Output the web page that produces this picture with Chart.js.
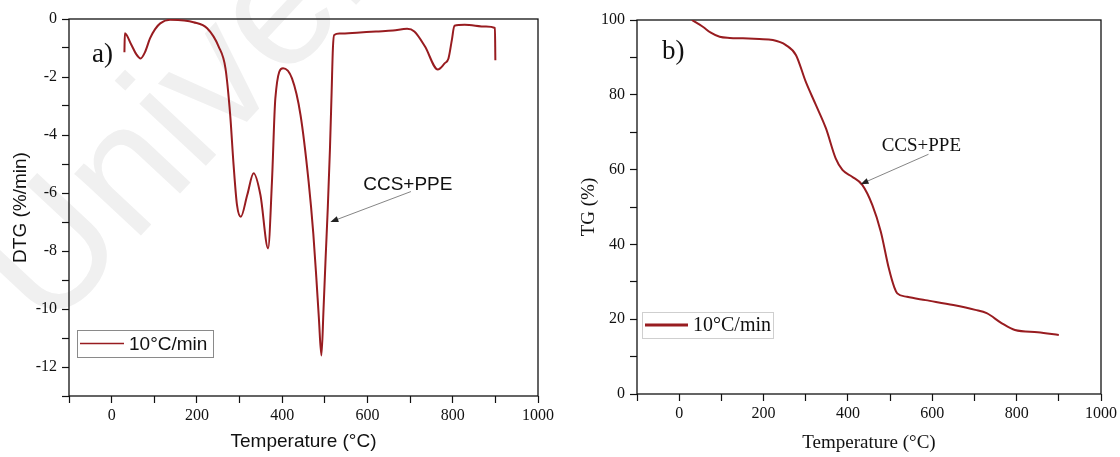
<!DOCTYPE html>
<html>
<head>
<meta charset="utf-8">
<script src="https://cdn.jsdelivr.net/npm/chart.js@4.4.1/dist/chart.umd.min.js"></script>
<style>
  html, body { margin: 0; padding: 0; background: #fff; }
  #wrap { position: relative; width: 1120px; height: 457px; overflow: hidden; }
  canvas { position: absolute; top: 0; }
  #dtg { left: 0; }
  #tg { left: 560px; }
</style>
</head>
<body>
<div id="wrap">
  <canvas id="dtg" width="560" height="457"></canvas>
  <canvas id="tg" width="560" height="457"></canvas>
</div>
<script>
// DTG run at 10 °C/min (temperature in °C, rate in %/min)
const dtgTemp = [30, 31, 45, 58, 68, 78, 90, 102, 114, 137, 170, 192, 224, 251, 267, 278, 286, 294, 303, 318, 333, 349, 367, 376, 384, 402, 423, 443, 462, 473, 480, 486, 492, 497, 502, 507, 512, 516, 519, 522, 535, 575, 620, 660, 693, 710, 735, 765, 781, 790, 798, 804, 828, 878, 899, 900];
const dtgRate = [-1.15, -0.49, -0.85, -1.22, -1.36, -1.15, -0.67, -0.35, -0.15, -0.03, -0.05, -0.11, -0.32, -0.95, -1.7, -3.3, -5.03, -6.41, -6.82, -6.07, -5.32, -6.07, -7.91, -5.61, -2.73, -1.7, -2.05, -3.31, -5.61, -7.4, -8.9, -10.3, -11.6, -10.0, -8.2, -6.5, -4.5, -2.5, -1.0, -0.55, -0.5, -0.47, -0.43, -0.4, -0.34, -0.43, -0.95, -1.74, -1.53, -1.36, -0.72, -0.23, -0.2, -0.26, -0.31, -1.42];

// TG run at 10 °C/min (remaining mass in %)
const tgTemp = [30, 56, 75, 96, 120, 151, 190, 222, 253, 277, 300, 324, 348, 371, 387, 410, 434, 458, 478, 497, 510, 517, 540, 584, 650, 702, 729, 765, 796, 850, 900];
const tgMass = [100, 98.2, 96.6, 95.5, 95.2, 95.1, 94.9, 94.65, 93.3, 90.6, 83.5, 77.3, 71, 63, 59.9, 58.1, 55.9, 50.5, 43.4, 33.6, 28.5, 26.9, 26.0, 25.1, 23.8, 22.5, 21.6, 18.9, 17.1, 16.5, 15.8];

const xTickLabels = [0, 200, 400, 600, 800, 1000];
const dtgTickLabels = [0, -2, -4, -6, -8, -10, -12];
const tgTickLabels = [0, 20, 40, 60, 80, 100];
const seriesLabel = '10°C/min';
const sampleLabel = 'CCS+PPE';

const SANS = '"Liberation Sans", Arial, sans-serif';
const SERIF = '"Liberation Serif", "Times New Roman", serif';
const RED = '#981c20';
const INK = '#111';

function toPoints(xs, ys) {
  return xs.map((x, i) => ({ x: x, y: ys[i] }));
}

function xAxis(titleFont, titleBottom, height) {
  return {
    type: 'linear', min: -100, max: 1000,
    ticks: {
      stepSize: 100, autoSkip: false, maxRotation: 0, padding: 3, color: INK,
      font: { family: SERIF, size: 16 },
      callback: v => xTickLabels.includes(v) ? String(v) : ''
    },
    grid: { drawOnChartArea: false, tickLength: 7, tickColor: INK, tickWidth: 1.2 },
    border: { display: false },
    title: { display: true, text: 'Temperature (°C)', color: INK, font: titleFont, padding: { top: 0, bottom: titleBottom } },
    afterFit: s => { s.height = height; }
  };
}

function yAxis(min, max, step, labels, title, titleFont, titleTop, width) {
  return {
    type: 'linear', min: min, max: max,
    ticks: {
      stepSize: step, autoSkip: false, padding: 5, color: INK,
      font: { family: SERIF, size: 16 },
      callback: v => labels.includes(v) ? String(v) : ''
    },
    grid: { drawOnChartArea: false, tickLength: 7, tickColor: INK, tickWidth: 1.2 },
    border: { display: false },
    title: { display: true, text: title, color: INK, font: titleFont, padding: { top: titleTop, bottom: 0 } },
    afterFit: s => { s.width = width; }
  };
}

function drawArrow(ctx, x1, y1, x2, y2) {
  const a = Math.atan2(y2 - y1, x2 - x1);
  ctx.save();
  ctx.strokeStyle = '#666';
  ctx.lineWidth = 0.8;
  ctx.beginPath();
  ctx.moveTo(x1, y1);
  ctx.lineTo(x2 - 5 * Math.cos(a), y2 - 5 * Math.sin(a));
  ctx.stroke();
  ctx.fillStyle = '#222';
  ctx.beginPath();
  ctx.moveTo(x2, y2);
  ctx.lineTo(x2 - 8 * Math.cos(a) + 3 * Math.sin(a), y2 - 8 * Math.sin(a) - 3 * Math.cos(a));
  ctx.lineTo(x2 - 8 * Math.cos(a) - 3 * Math.sin(a), y2 - 8 * Math.sin(a) + 3 * Math.cos(a));
  ctx.closePath();
  ctx.fill();
  ctx.restore();
}

// box around the plot area plus the panel text (panel letter, legend, sample arrow)
function decorations(opts) {
  return {
    id: 'decor',
    beforeDraw(chart) {
      if (!opts.watermark) return;
      const ctx = chart.ctx;
      ctx.save();
      ctx.translate(48, 335);
      ctx.rotate(-0.82);
      ctx.fillStyle = '#f0f0f0';
      ctx.font = '172px ' + SANS;
      ctx.textBaseline = 'alphabetic';
      ctx.fillText('Universiti', 0, 0);
      ctx.restore();
    },
    beforeDatasetsDraw(chart) {
      const { ctx, chartArea: a } = chart;
      ctx.save();
      ctx.strokeStyle = INK;
      ctx.lineWidth = 1.3;
      ctx.strokeRect(a.left, a.top, a.right - a.left, a.bottom - a.top);
      ctx.restore();
    },
    afterDraw(chart) {
      const { ctx, chartArea: a, scales: { x, y } } = chart;
      ctx.save();
      ctx.textBaseline = 'middle';
      ctx.textAlign = 'left';
      ctx.fillStyle = INK;

      // panel letter
      ctx.font = '27px ' + SERIF;
      ctx.fillText(opts.panel, x.getPixelForValue(opts.panelAt[0]), y.getPixelForValue(opts.panelAt[1]));

      // sample label with arrow onto the curve
      ctx.font = opts.noteFont;
      ctx.fillText(sampleLabel, x.getPixelForValue(opts.noteAt[0]), y.getPixelForValue(opts.noteAt[1]));
      drawArrow(ctx,
        x.getPixelForValue(opts.arrowFrom[0]), y.getPixelForValue(opts.arrowFrom[1]),
        x.getPixelForValue(opts.arrowTo[0]), y.getPixelForValue(opts.arrowTo[1]));

      // legend box
      const L = opts.legend;
      const bx = a.left + L.dx, by = a.bottom - L.dy;
      ctx.fillStyle = '#fff';
      ctx.fillRect(bx, by, L.w, L.h);
      ctx.strokeStyle = L.border;
      ctx.lineWidth = 1;
      ctx.strokeRect(bx + 0.5, by + 0.5, L.w, L.h);
      ctx.strokeStyle = RED;
      ctx.lineWidth = L.lineWidth;
      ctx.beginPath();
      ctx.moveTo(bx + 3, by + L.h / 2);
      ctx.lineTo(bx + 3 + L.lineLen, by + L.h / 2);
      ctx.stroke();
      ctx.fillStyle = INK;
      ctx.font = L.font;
      ctx.fillText(seriesLabel, bx + L.lineLen + 8, by + L.h / 2 + 1);
      ctx.restore();
    }
  };
}

function dataset(points) {
  return {
    label: seriesLabel,
    data: points,
    borderColor: RED,
    borderWidth: 2,
    pointRadius: 0,
    fill: false,
    cubicInterpolationMode: 'monotone'
  };
}

const common = {
  responsive: false,
  animation: false,
  events: [],
  plugins: { legend: { display: false }, tooltip: { enabled: false } }
};

new Chart(document.getElementById('dtg'), {
  type: 'line',
  data: { datasets: [dataset(toPoints(dtgTemp, dtgRate))] },
  options: Object.assign({}, common, {
    layout: { padding: { left: 0, right: 22, top: 19, bottom: 0 } },
    scales: {
      x: xAxis({ family: SANS, size: 19 }, 4, 61),
      y: yAxis(-13, 0, 1, dtgTickLabels, 'DTG (%/min)', { family: SANS, size: 19 }, 9, 69)
    }
  }),
  plugins: [decorations({
    watermark: true,
    panel: 'a)', panelAt: [-46, -1.25],
    noteFont: '19px ' + SANS, noteAt: [590, -5.7], arrowFrom: [702, -5.95], arrowTo: [513, -7.0],
    legend: { dx: 8, dy: 66, w: 136, h: 27, border: '#8a8a8a', lineWidth: 1.6, lineLen: 44, font: '19px ' + SANS }
  })]
});

new Chart(document.getElementById('tg'), {
  type: 'line',
  data: { datasets: [dataset(toPoints(tgTemp, tgMass))] },
  options: Object.assign({}, common, {
    layout: { padding: { left: 0, right: 17, top: 20, bottom: 0 } },
    scales: {
      x: xAxis({ family: SERIF, size: 19 }, 3, 63),
      y: yAxis(0, 100, 10, tgTickLabels, 'TG (%)', { family: SERIF, size: 19 }, 18, 77)
    }
  }),
  plugins: [decorations({
    watermark: false,
    panel: 'b)', panelAt: [-41, 91.5],
    noteFont: '19px ' + SERIF, noteAt: [480, 66.3], arrowFrom: [591, 64.1], arrowTo: [430, 56.1],
    legend: { dx: 5, dy: 82, w: 131, h: 26, border: '#cfcfcf', lineWidth: 3, lineLen: 43, font: '20px ' + SERIF }
  })]
});
</script>
</body>
</html>
